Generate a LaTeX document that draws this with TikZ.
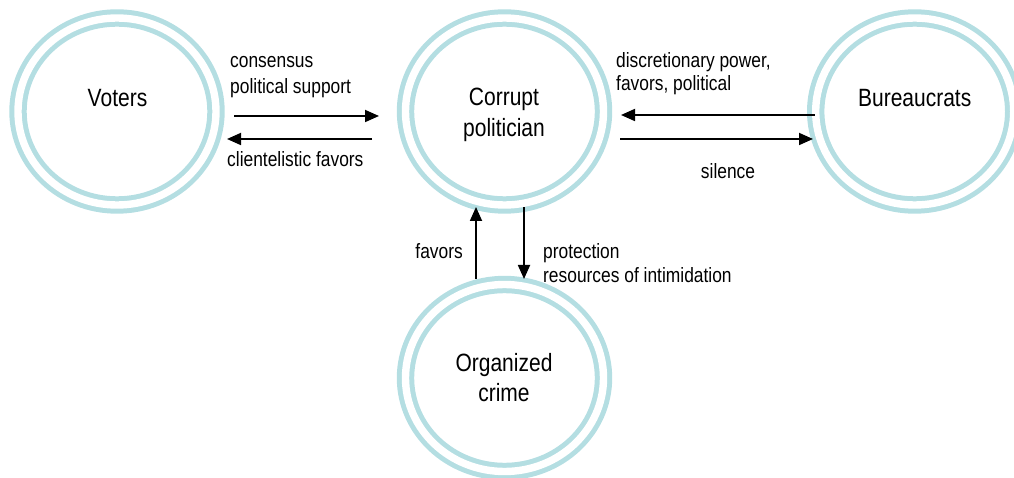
\documentclass[tikz,border=0pt]{standalone}
\usepackage{fontspec}
\setmainfont{Liberation Sans}[FakeStretch=0.84]
\usetikzlibrary{arrows.meta,shapes.geometric}
\definecolor{ringteal}{RGB}{180,222,226}
\begin{document}
\begin{tikzpicture}[x=1pt,y=-1pt,
  actor/.style={ellipse, draw=ringteal, line width=5pt, double=white,
    double distance=7.4pt, minimum width=198pt, minimum height=187pt, inner sep=0pt},
  mainlbl/.style={font=\fontsize{25}{30}\selectfont, anchor=base, inner sep=0pt},
  flowlbl/.style={font=\fontsize{20.7}{24.5}\selectfont, inner sep=0pt},
  flow/.style={line width=1.8pt, -{Triangle[length=14pt,width=12pt]}}]
\useasboundingbox (0,0) rectangle (1014,478);

% actors
\node[actor] (V) at (117,111.5) {};
\node[actor] (P) at (504.5,111.5) {};
\node[actor] (B) at (914.7,111.5) {};
\node[actor] (O) at (504.5,378) {};

\node[mainlbl] (tV)  at (117.5,107) {Voters};
\node[mainlbl] (tP1) at (504,106) {Corrupt};
\node[mainlbl] (tP2) at (504,136.7) {politician};
\node[mainlbl] (tB)  at (914.7,106.7) {Bureaucrats};
\node[mainlbl] (tO1) at (504,371.7) {Organized};
\node[mainlbl] (tO2) at (504,401.7) {crime};

% exchanges between voters and the politician
\draw[flow] ([shift={(117,4.5)}]V.center) -- ([shift={(-125.5,4.5)}]P.center);
\draw[flow] ([shift={(-132.5,27.5)}]P.center) -- ([shift={(110,27.5)}]V.center);
% exchanges between bureaucrats and the politician
\draw[flow] ([shift={(-100,3.5)}]B.center) -- ([shift={(116.5,3.5)}]P.center);
\draw[flow] ([shift={(115.5,27.5)}]P.center) -- ([shift={(-101.7,27.5)}]B.center);
% exchanges between organized crime and the politician
\draw[flow] ([shift={(-28.5,-99)}]O.center) -- ([shift={(-28.5,95.5)}]P.center);
\draw[flow] ([shift={(19.5,95.5)}]P.center) -- ([shift={(19.5,-99)}]O.center);

% flow labels
\node[flowlbl, anchor=base west] (l1a) at (230,68) {consensus};
\node[flowlbl, anchor=base west] (l1b) at (230,93.5) {political support};
\node[flowlbl, anchor=base west] (l2)  at (227,167) {clientelistic favors};
\node[flowlbl, anchor=base west] (l3a) at (616,67.5) {discretionary power,};
\node[flowlbl, anchor=base west] (l3b) at (616,91) {favors, political};
\node[flowlbl, anchor=base] (l4) at (728,178.5) {silence};
\node[flowlbl, anchor=base east] (l5) at (463,258.7) {favors};
\node[flowlbl, anchor=base west] (l6a) at (543,258.7) {protection};
\node[flowlbl, anchor=base west] (l6b) at (543,282.7) {resources of intimidation};
\end{tikzpicture}
\end{document}
